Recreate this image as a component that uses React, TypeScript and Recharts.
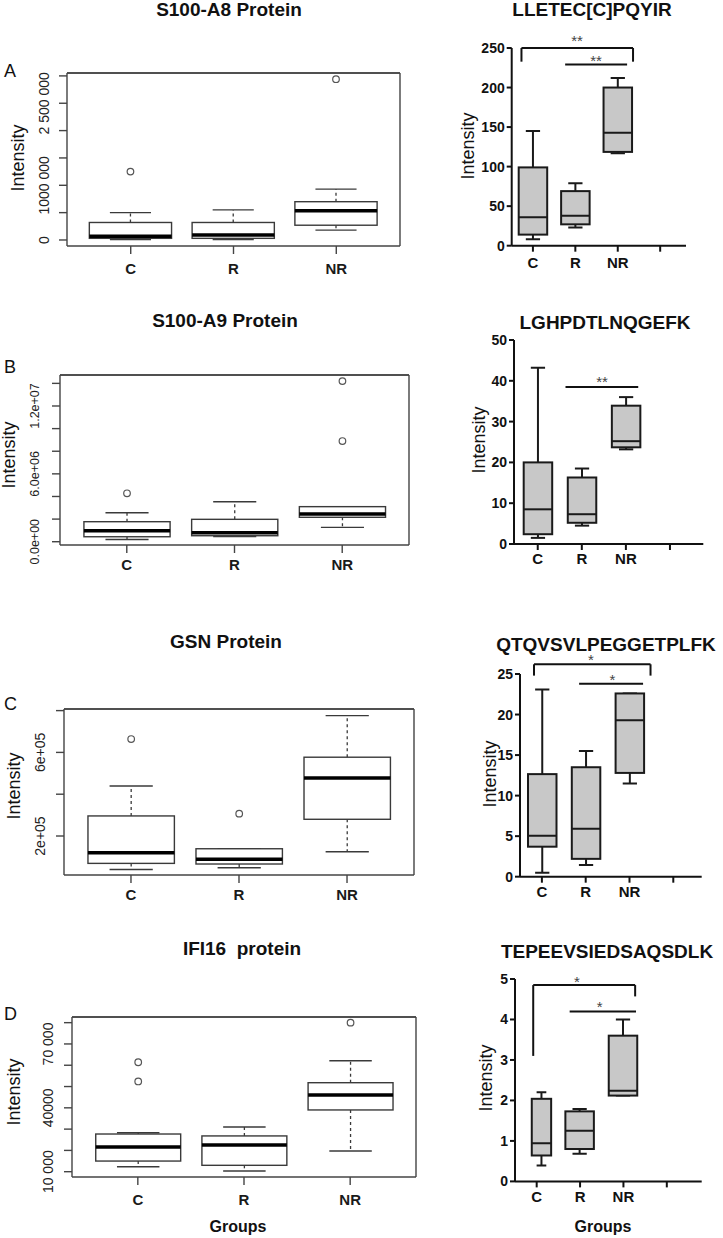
import React from 'react';
import { ComposedChart, Bar, XAxis, YAxis, ReferenceLine, ReferenceDot } from 'recharts';

const FONT = 'Arial, "Liberation Sans", Helvetica, sans-serif';

const groups = ['C', 'R', 'NR'];
const prismGroups = ['C', 'R', 'NR', ''];

// Left column (R boxplots): [min, q1, median, q3, max] per group
const s100a8Protein = [
  [10000, 30000, 70000, 320000, 500000],
  [10000, 30000, 90000, 320000, 550000],
  [180000, 270000, 535000, 700000, 930000],
];
const s100a8Outliers = [[1250000], [], [2940000]];
const s100a8Ticks = [0, 500000, 1000000, 1500000, 2000000, 2500000, 3000000];
const s100a8TickLabels = ['0', '', '1000 000', '', '', '2 500 000', ''];

const s100a9Protein = [
  [200000, 440000, 970000, 1770000, 2560000],
  [450000, 530000, 800000, 1980000, 3540000],
  [1270000, 2160000, 2450000, 3100000, 3100000],
];
const s100a9Outliers = [[4280000], [], [8900000, 14200000]];
const s100a9Ticks = [0, 2e6, 4e6, 6e6, 8e6, 1e7, 1.2e7, 1.4e7];
const s100a9TickLabels = ['0.0e+00', '', '', '6.0e+06', '', '', '1.2e+07', ''];

const gsnProtein = [
  [40000, 69000, 120000, 296000, 439000],
  [48000, 66000, 89000, 139000, 139000],
  [125000, 280000, 478000, 577000, 776000],
];
const gsnOutliers = [[664000], [307000], []];
const gsnTicks = [200000, 400000, 600000, 800000];
const gsnTickLabels = ['2e+05', '', '6e+05', ''];

const ifi16Protein = [
  [12300, 15000, 21600, 27700, 28300],
  [10300, 13000, 22500, 26800, 31000],
  [19700, 39000, 46000, 51800, 62100],
];
const ifi16Outliers = [[52400, 61400], [], [80000]];
const ifi16Ticks = [10000, 20000, 30000, 40000, 50000, 60000, 70000, 80000];
const ifi16TickLabels = ['10 000', '', '', '40000', '', '', '70 000', ''];

// Right column (peptide boxplots): [min, q1, median, q3, max] per group
const lletecPeptide = [
  [8, 14, 36, 99, 145],
  [23, 27, 38, 69, 79],
  [117, 118.6, 142.7, 200, 212],
];
const lletecTicks = [0, 50, 100, 150, 200, 250];

const lghpdPeptide = [
  [1.5, 2.4, 8.5, 20, 43.2],
  [4.5, 5.2, 7.3, 16.3, 18.5],
  [23.2, 23.7, 25.2, 33.9, 36],
];
const lghpdTicks = [0, 10, 20, 30, 40, 50];

const qtqvsPeptide = [
  [0.5, 3.7, 5.04, 12.65, 23.1],
  [1.45, 2.2, 5.9, 13.5, 15.5],
  [11.5, 12.8, 19.3, 22.6, 22.6],
];
const qtqvsTicks = [0, 5, 10, 15, 20, 25];

const tepeePeptide = [
  [0.39, 0.64, 0.94, 2.04, 2.2],
  [0.68, 0.8, 1.25, 1.73, 1.79],
  [2.12, 2.12, 2.24, 3.6, 4.0],
];
const tepeeTicks = [0, 1, 2, 3, 4, 5];

// significance marks: segments [x1, y1, x2, y2], x in group-index units
const lletecBrackets = [
  [-0.27, 250, 2.36, 250], [-0.27, 250, -0.27, 232.7], [2.36, 250, 2.36, 232.7],
  [0.76, 229, 2.22, 229],
];
const lletecStars: [string, number, number][] = [['**', 1.04, 262.6], ['**', 1.49, 237.4]];
const lghpdBrackets = [[0.63, 38.5, 2.28, 38.5]];
const lghpdStars: [string, number, number][] = [['**', 1.46, 40.4]];
const qtqvsBrackets = [
  [-0.18, 26.2, 2.48, 26.2], [-0.18, 26.2, -0.18, 24.8], [2.48, 26.2, 2.48, 24.8],
  [0.85, 23.8, 2.31, 23.8],
];
const qtqvsStars: [string, number, number][] = [['*', 1.12, 27.05], ['*', 1.61, 24.66]];
const tepeeBrackets = [
  [-0.08, 4.85, 2.27, 4.85], [-0.08, 4.85, -0.08, 3.1], [2.27, 4.85, 2.27, 4.57],
  [0.76, 4.2, 2.29, 4.2],
];
const tepeeStars: [string, number, number][] = [['*', 0.93, 5.0], ['*', 1.45, 4.37]];

function RBox(props: any) {
  const { x, y, width, height, payload } = props;
  if (!payload || !payload.stats) return <g />;
  const [mn, q1, md, q3, mx] = payload.stats;
  const top = Math.min(y, y + height);
  const bot = Math.max(y, y + height);
  const py = (v: number) => bot - ((v - mn) / (mx - mn)) * (bot - top);
  const cx = x + width / 2;
  const cap = width / 4;
  const edge = '#3a3a3a';
  return (
    <g>
      <line x1={cx} x2={cx} y1={py(q3)} y2={py(mx)} stroke={edge} strokeWidth={1.3} strokeDasharray="3 3" />
      <line x1={cx} x2={cx} y1={py(q1)} y2={py(mn)} stroke={edge} strokeWidth={1.3} strokeDasharray="3 3" />
      <line x1={cx - cap} x2={cx + cap} y1={py(mx)} y2={py(mx)} stroke={edge} strokeWidth={1.4} />
      <line x1={cx - cap} x2={cx + cap} y1={py(mn)} y2={py(mn)} stroke={edge} strokeWidth={1.4} />
      <rect x={x} y={py(q3)} width={width} height={py(q1) - py(q3)} fill="#fff" stroke={edge} strokeWidth={1.4} />
      <line x1={x} x2={x + width} y1={py(md)} y2={py(md)} stroke="#000" strokeWidth={3.5} />
      {payload.out.map((o: number, i: number) => (
        <circle key={i} cx={cx} cy={py(o)} r={3.3} fill="none" stroke="#555" strokeWidth={1.2} />
      ))}
    </g>
  );
}

function PrismBox(props: any) {
  const { x, y, width, height, payload, scale, shift } = props;
  if (!payload || !payload.stats) return <g />;
  const [mn, q1, md, q3, mx] = payload.stats;
  const top = Math.min(y, y + height);
  const bot = Math.max(y, y + height);
  const py = (v: number) => bot - ((v - mn) / (mx - mn)) * (bot - top);
  const w = width * scale;
  const cx = x + width / 2 + shift;
  const bx = cx - w / 2;
  const cap = w / 4;
  const edge = '#1a1a1a';
  return (
    <g>
      <line x1={cx} x2={cx} y1={py(q3)} y2={py(mx)} stroke={edge} strokeWidth={2} />
      <line x1={cx} x2={cx} y1={py(q1)} y2={py(mn)} stroke={edge} strokeWidth={2} />
      <line x1={cx - cap} x2={cx + cap} y1={py(mx)} y2={py(mx)} stroke={edge} strokeWidth={2} />
      <line x1={cx - cap} x2={cx + cap} y1={py(mn)} y2={py(mn)} stroke={edge} strokeWidth={2} />
      <rect x={bx} y={py(q3)} width={w} height={py(q1) - py(q3)} fill="#c8c8c8" stroke={edge} strokeWidth={2} />
      <line x1={bx} x2={bx + w} y1={py(md)} y2={py(md)} stroke={edge} strokeWidth={2} />
    </g>
  );
}

function RPanel({ stats, outliers, ticks, tickLabels, layout }: any) {
  const [fx, fy, fw, fh] = layout.frame;
  const W = 430;
  const mTop = 15;
  const xH = 45;
  const top = fy - mTop;
  const H = mTop + fh + xH;
  const unit = fw / 3.24;
  const pad = unit * 0.12;
  const edge = '#444';
  const data = groups.map((g, i) => ({
    name: g,
    range: [stats[i][0], stats[i][4]],
    stats: stats[i],
    out: outliers[i],
  }));
  const labelOf = (v: number) => tickLabels[ticks.indexOf(v)];
  return (
    <div style={{ position: 'absolute', left: 0, top, width: W, height: H }}>
      <ComposedChart width={W} height={H} data={data} margin={{ top: mTop - 1, right: W - fx - fw - 1, bottom: 0, left: 0 }}>
        <XAxis
          dataKey="name"
          padding={{ left: pad, right: pad }}
          height={xH}
          interval={0}
          axisLine={{ stroke: edge, strokeWidth: 1.4 }}
          tickLine={{ stroke: edge, strokeWidth: 1.4 }}
          tickSize={8}
          tick={(p: any) => (
            <text x={p.x} y={layout.xLabelY - top + 5.4} textAnchor="middle" fontSize={15} fontWeight="bold" fontFamily={FONT} fill="#1a1a1a">
              {p.payload.value}
            </text>
          )}
        />
        <XAxis
          xAxisId="top"
          dataKey="name"
          orientation="top"
          height={1}
          padding={{ left: pad, right: pad }}
          axisLine={{ stroke: edge, strokeWidth: 1.4 }}
          tick={false}
          tickLine={false}
        />
        <YAxis
          domain={layout.domain}
          allowDataOverflow
          ticks={ticks}
          interval={0}
          width={fx}
          axisLine={{ stroke: edge, strokeWidth: 1.4 }}
          tickLine={{ stroke: edge, strokeWidth: 1.4 }}
          tickSize={8}
          tick={(p: any) => {
            const lab = labelOf(p.payload.value);
            if (!lab) return <g />;
            const lx = layout.labelX;
            return (
              <text x={lx} y={p.y} transform={`rotate(-90 ${lx} ${p.y})`} textAnchor="middle" dominantBaseline="central" fontSize={layout.tickFont} fontFamily={FONT} fill="#222">
                {lab}
              </text>
            );
          }}
        />
        <YAxis
          yAxisId="right"
          orientation="right"
          width={1}
          domain={layout.domain}
          allowDataOverflow
          tick={false}
          tickLine={false}
          axisLine={{ stroke: edge, strokeWidth: 1.4 }}
        />
        <ReferenceLine y={layout.domain[1]} stroke={edge} strokeWidth={1.4} ifOverflow="visible" />
        <Bar dataKey="range" barSize={unit * 0.8} isAnimationActive={false} shape={(p: any) => <RBox {...p} />} />
      </ComposedChart>
    </div>
  );
}

function PrismPanel({ stats, ticks, brackets, stars, layout }: any) {
  const left = 430;
  const W = 293;
  const mTop = 50;
  const xH = 40;
  const top = layout.yTop - mTop;
  const H = mTop + (layout.zero - layout.yTop) + xH;
  const pad = { left: layout.pad[0], right: layout.pad[1] };
  // distance between neighbouring group centres on the category axis
  const spacing = (layout.end - layout.ax - pad.left - pad.right) / prismGroups.length;
  const data = prismGroups.map((g, i) =>
    stats[i] ? { name: g, range: [stats[i][0], stats[i][4]], stats: stats[i] } : { name: g, range: null, stats: null }
  );
  const groupOf = (v: number) => prismGroups[Math.round(v)];
  const offOf = (v: number) => v - Math.round(v);
  const boxScale = layout.boxScale || [1, 1, 1];
  const boxShift = layout.boxShift || [0, 0, 0];
  return (
    <div style={{ position: 'absolute', left, top, width: W, height: H }}>
      <ComposedChart width={W} height={H} data={data} margin={{ top: mTop, right: 723 - layout.end, bottom: 0, left: 0 }}>
        <XAxis
          dataKey="name"
          padding={pad}
          height={xH}
          interval={0}
          axisLine={{ stroke: '#111', strokeWidth: 2 }}
          tickLine={{ stroke: '#111', strokeWidth: 2 }}
          tickSize={6}
          tick={(p: any) => (
            <text x={p.x} y={layout.labelY - top + 5.4} textAnchor="middle" fontSize={15} fontWeight="bold" fontFamily={FONT} fill="#111">
              {p.payload.value}
            </text>
          )}
        />
        <YAxis
          domain={[0, ticks[ticks.length - 1]]}
          allowDataOverflow
          ticks={ticks}
          interval={0}
          width={layout.ax - left}
          axisLine={{ stroke: '#111', strokeWidth: 2 }}
          tickLine={{ stroke: '#111', strokeWidth: 2 }}
          tickSize={5}
          tick={{ fontSize: 14, fontWeight: 'bold', fill: '#111', fontFamily: FONT }}
        />
        <Bar
          dataKey="range"
          barSize={28.5}
          isAnimationActive={false}
          shape={(p: any) => (
            <PrismBox {...p} scale={boxScale[p.index] ?? 1} shift={(boxShift[p.index] ?? 0) * spacing} />
          )}
        />
        {brackets.map((b: number[], i: number) => (
          <ReferenceLine
            key={'b' + i}
            segment={[{ x: groupOf(b[0]), y: b[1] }, { x: groupOf(b[2]), y: b[3] }]}
            ifOverflow="visible"
            shape={(p: any) => (
              <line
                x1={p.x1 + offOf(b[0]) * spacing}
                y1={p.y1}
                x2={p.x2 + offOf(b[2]) * spacing}
                y2={p.y2}
                stroke="#111"
                strokeWidth={2}
              />
            )}
          />
        ))}
        {stars.map((s: [string, number, number], i: number) => (
          <ReferenceDot
            key={'s' + i}
            x={groupOf(s[1])}
            y={s[2]}
            r={1}
            ifOverflow="visible"
            shape={(p: any) => (
              <text x={p.cx + offOf(s[1]) * spacing} y={p.cy + 8} textAnchor="middle" fontSize={15} fontFamily={FONT} fill="#444">
                {s[0]}
              </text>
            )}
          />
        ))}
      </ComposedChart>
    </div>
  );
}

const rLayouts = [
  { frame: [67, 73, 333, 173], domain: [-110000, 3053000], labelX: 44, xLabelY: 269, tickFont: 14 },
  { frame: [60, 375, 349, 170], domain: [-290000, 14740000], labelX: 35, xLabelY: 565, tickFont: 12.5 },
  { frame: [64, 709, 350, 166], domain: [13400, 807700], labelX: 40, xLabelY: 895, tickFont: 14 },
  { frame: [72, 1017, 344, 160], domain: [7510, 82660], labelX: 48, xLabelY: 1200, tickFont: 14 },
];

const prismLayouts = [
  { ax: 511.7, yTop: 48.3, zero: 246, end: 686, pad: [0, 4.6], labelY: 263.3 },
  { ax: 514, yTop: 340, zero: 544, end: 703.3, pad: [1.7, 11.3], labelY: 559 },
  { ax: 520, yTop: 674, zero: 876.7, end: 701.7, pad: [0, 6.5], labelY: 891.7 },
  { ax: 515, yTop: 979.3, zero: 1181.7, end: 701.7, pad: [0, 13.2], labelY: 1196.7, boxScale: [0.68, 1, 1], boxShift: [0.12, 0, 0] },
];

const titles: [string, number, number][] = [
  ['S100-A8 Protein', 229, 15.5],
  ['LLETEC[C]PQYIR', 592, 15.5],
  ['S100-A9 Protein', 225, 327],
  ['LGHPDTLNQGEFK', 605, 329],
  ['GSN Protein', 226, 648],
  ['QTQVSVLPEGGETPLFK', 606, 651],
  ['IFI16  protein', 242, 955],
  ['TEPEEVSIEDSAQSDLK', 607, 958],
];
const letters: [string, number, number][] = [
  ['A', 4, 77],
  ['B', 4, 373],
  ['C', 4, 710],
  ['D', 4, 1020],
];
const intensityLabels: [number, number][] = [
  [17.5, 158], [468, 146],
  [9, 455], [479, 440],
  [14, 786], [490, 774],
  [14, 1092], [486, 1078],
];

export default function App() {
  return (
    <div style={{ position: 'absolute', left: 0, top: 0, width: 723, height: 1238, background: '#fff', overflow: 'hidden' }}>
      <RPanel stats={s100a8Protein} outliers={s100a8Outliers} ticks={s100a8Ticks} tickLabels={s100a8TickLabels} layout={rLayouts[0]} />
      <RPanel stats={s100a9Protein} outliers={s100a9Outliers} ticks={s100a9Ticks} tickLabels={s100a9TickLabels} layout={rLayouts[1]} />
      <RPanel stats={gsnProtein} outliers={gsnOutliers} ticks={gsnTicks} tickLabels={gsnTickLabels} layout={rLayouts[2]} />
      <RPanel stats={ifi16Protein} outliers={ifi16Outliers} ticks={ifi16Ticks} tickLabels={ifi16TickLabels} layout={rLayouts[3]} />
      <PrismPanel stats={lletecPeptide} ticks={lletecTicks} brackets={lletecBrackets} stars={lletecStars} layout={prismLayouts[0]} />
      <PrismPanel stats={lghpdPeptide} ticks={lghpdTicks} brackets={lghpdBrackets} stars={lghpdStars} layout={prismLayouts[1]} />
      <PrismPanel stats={qtqvsPeptide} ticks={qtqvsTicks} brackets={qtqvsBrackets} stars={qtqvsStars} layout={prismLayouts[2]} />
      <PrismPanel stats={tepeePeptide} ticks={tepeeTicks} brackets={tepeeBrackets} stars={tepeeStars} layout={prismLayouts[3]} />
      <svg width={723} height={1238} style={{ position: 'absolute', left: 0, top: 0, pointerEvents: 'none' }}>
        {titles.map(([t, x, y]) => (
          <text key={t} x={x} y={y} textAnchor="middle" fontSize={19} fontWeight="bold" fontFamily={FONT} fill="#111" style={{ whiteSpace: 'pre' }}>
            {t}
          </text>
        ))}
        {letters.map(([t, x, y]) => (
          <text key={t} x={x} y={y} fontSize={18} fontFamily={FONT} fill="#111">
            {t}
          </text>
        ))}
        {intensityLabels.map(([x, y], i) => (
          <text key={i} x={x} y={y} transform={`rotate(-90 ${x} ${y})`} textAnchor="middle" dominantBaseline="central" fontSize={18} fontFamily={FONT} fill="#111">
            Intensity
          </text>
        ))}
        <text x={238} y={1232} textAnchor="middle" fontSize={16} fontWeight="bold" fontFamily={FONT} fill="#111">Groups</text>
        <text x={603} y={1232} textAnchor="middle" fontSize={16} fontWeight="bold" fontFamily={FONT} fill="#111">Groups</text>
      </svg>
    </div>
  );
}
